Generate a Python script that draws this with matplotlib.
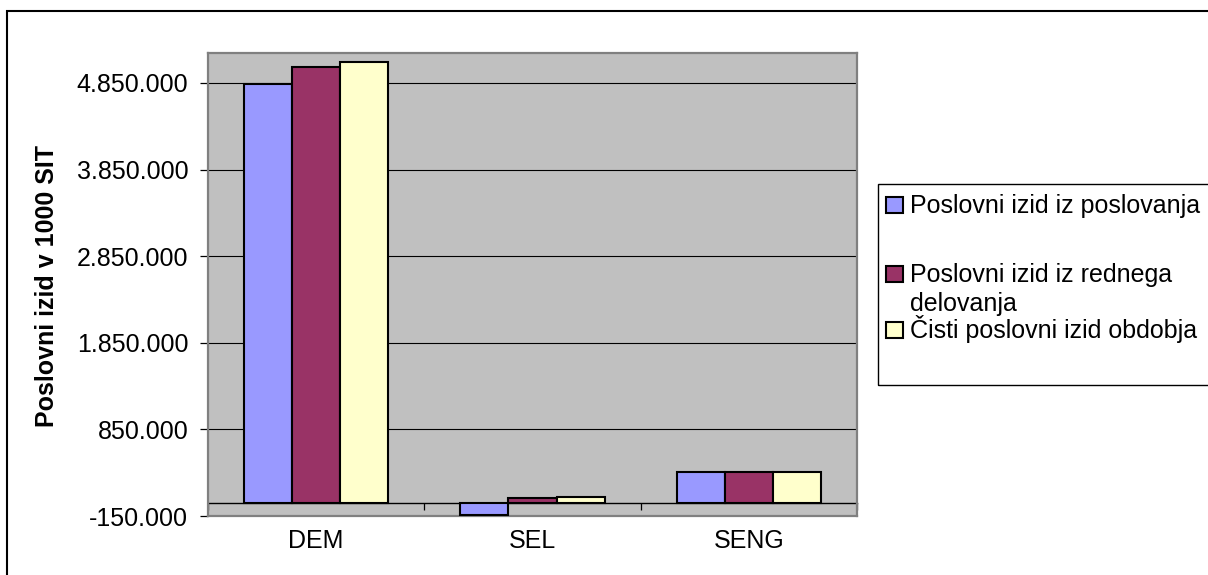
import matplotlib.pyplot as plt
from matplotlib.patches import Rectangle
import numpy as np

plt.rcParams['font.family'] = ['Liberation Sans', 'DejaVu Sans']

categories = ["DEM", "SEL", "SENG"]
series_names = ["Poslovni izid iz poslovanja",
                "Poslovni izid iz rednega\ndelovanja",
                "Čisti poslovni izid obdobja"]
poslovanje = [4840000, -140000, 355000]
redno = [5040000, 55000, 355000]
cisti = [5095000, 72000, 355000]
colors = ["#9999FF", "#993366", "#FFFFCC"]
yticks = [-150000, 850000, 1850000, 2850000, 3850000, 4850000]
ymin, ymax = -150000, 5196000

W, H = 1208, 575
fig = plt.figure(figsize=(W / 100, H / 100), dpi=100)
ax = fig.add_axes([208 / W, 1 - 516 / H, (857 - 208) / W, (516 - 53) / H])
ax.set_facecolor("#C0C0C0")
for s in ax.spines.values():
    s.set_color("#808080")
    s.set_linewidth(1.6)

x = np.arange(len(categories))
w = 1 / 4.5
for i, vals in enumerate([poslovanje, redno, cisti]):
    ax.bar(x + (i - 1) * w, vals, w, color=colors[i], edgecolor="black",
           linewidth=1.5, zorder=3)

ax.set_xlim(-0.5, len(categories) - 0.5)
ax.set_ylim(ymin, ymax)
ax.set_axisbelow(True)
ax.yaxis.grid(True, color="black", linewidth=0.8)

ax.set_yticks(yticks)
ax.set_yticklabels([f"{v:,.0f}".replace(",", ".") for v in yticks])
ax.tick_params(axis="y", length=5.8, width=0.9, color="black", pad=8.5,
               labelsize=18)
ax.set_xticks(x)
ax.set_xticklabels(categories)
ax.tick_params(axis="x", length=0, pad=9, labelsize=18)

# category axis crossing at zero
frac = (0 - ymin) / (ymax - ymin)
sec = ax.secondary_xaxis(frac)
sec.spines["bottom"].set_color("black")
sec.spines["bottom"].set_linewidth(1.0)
sec.set_xticks(np.arange(len(categories) + 1) - 0.5)
sec.set_xticklabels([])
sec.tick_params(axis="x", direction="out", length=5, width=0.9, color="black")

fig.text(47 / W, 1 - 286 / H, "Poslovni izid v 1000 SIT", rotation=90,
         ha="center", va="center", fontsize=18, fontweight="bold")

# outer chart border
fig.patches.append(Rectangle((7 / W, -0.1), 1.2, 1 - 11 / H + 0.1,
                             transform=fig.transFigure, fill=False,
                             edgecolor="black", linewidth=1.5))

# legend
fig.patches.append(Rectangle((878 / W, 1 - 385 / H), 1.0, (385 - 184) / H,
                             transform=fig.transFigure, fill=False,
                             edgecolor="black", linewidth=1.0))
baselines = [213, 282, 338]
for name, col, b in zip(series_names, colors, baselines):
    fig.patches.append(Rectangle((886 / W, 1 - b / H), 17 / W, 16 / H,
                                 transform=fig.transFigure, facecolor=col,
                                 edgecolor="black", linewidth=1.5))
    for k, line in enumerate(name.split("\n")):
        fig.text(910 / W, 1 - (b + 28.5 * k) / H, line, ha="left",
                 va="baseline", fontsize=18)

fig.savefig("out.png", dpi=100)
